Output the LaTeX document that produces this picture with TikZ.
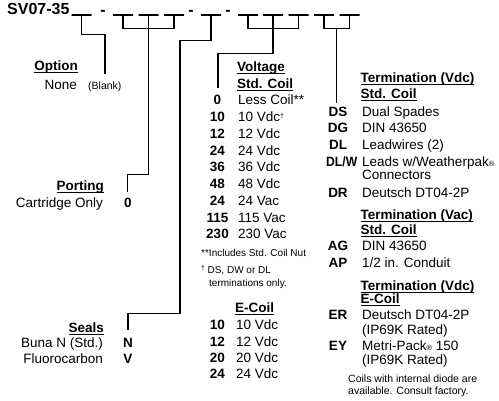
\documentclass[tikz,border=0pt]{standalone}
\usepackage{fontspec}
\setmainfont{Liberation Sans}
\usetikzlibrary{positioning,calc}
\newcommand\hdul[1]{\setbox0\hbox{#1}\rlap{\rule[-2.4pt]{\wd0}{1.2pt}}\box0}
\newcommand\dgr{\raisebox{3.5pt}{\fontsize{7}{7}\selectfont\textdagger}}
\newcommand\regm{\raisebox{0.5pt}{\fontsize{7.5}{8}\selectfont\textregistered}}
\tikzset{
  conn/.style={line width=1.3pt},
  blank/.style={draw,line width=1.3pt,minimum width=20pt,minimum height=0pt,
    inner sep=0pt},
  txt/.style={font=\fontsize{13.5}{15}\selectfont,inner sep=0pt,
    text height=9.7pt,text depth=0pt},
  code/.style={txt,font=\fontsize{13.5}{15}\selectfont\bfseries},
  hdr/.style={code,anchor=west},
  lbl/.style={txt,anchor=west},
  lft/.style={txt,anchor=east},
  note/.style={font=\fontsize{10.5}{12}\selectfont,inner sep=0pt,
    text height=7.5pt,text depth=0pt,anchor=west},
  fnote/.style={note,font=\fontsize{10}{12}\selectfont},
  ttl/.style={font=\fontsize{16}{18}\selectfont\bfseries,inner sep=0pt},
}
\begin{document}
\begin{tikzpicture}[x=1pt,y=-1pt]
  \useasboundingbox (0,0) rectangle (499,401);
  \node[ttl,anchor=base west] (model) at (7,15) {SV07-35};
  \foreach \n/\x in {1/81.5,2/123,3/148.5,4/174,5/211,6/248,7/273,8/298.5,
    9/324,10/349.5}
    \node[blank] (b\n) at (\x,15) {};
  \node[ttl,anchor=base] (dash1) at (103,15.5) {-};
  \node[ttl,anchor=base] (dash2) at (191,15.5) {-};
  \node[ttl,anchor=base] (dash3) at (228,15.5) {-};
  \coordinate (opt) at (105,74);
  \coordinate (port) at (127.5,192);
  \coordinate (seal) at (128,330);
  \coordinate (volt) at (218,88);
  \coordinate (term) at ($(b9.south)!.5!(b10.south)+(0,87)$);
  \draw[conn] (b1.south) -- ++(0,19) -| (opt);
  \draw[conn] (b2.south) -- ++(0,13) -| (b4.south);
  \draw[conn] (b3.south) -- ++(0,159) -| (port);
  \draw[conn] (b5.south) -- ++(0,25) -| ++(-31,273) -| (seal);
  \draw[conn] (b6.south) -- ++(0,13) -| (b8.south);
  \draw[conn] (b7.south) -- ++(0,38) -| (volt);
  \draw[conn] (b9.south) -- ++(0,13) -| (b10.south);
  \draw[conn] ($(b9.south)!.5!(b10.south)+(0,13)$) -- (term);
  % option, porting, seals
  \node[hdr,anchor=east] (optH) at (78,66) {\hdul{Option}};
  \node[lft] (optNone) at (77,85) {None};
  \node[note] (optBlank) at (88,86) {(Blank)};
  \node[hdr,anchor=east] (portH) at (104,186) {\hdul{Porting}};
  \node[lft] (portCart) at (103,203) {Cartridge Only};
  \node[code] (port0) at (128,203) {0};
  \node[hdr,anchor=east] (sealH) at (104,328) {\hdul{Seals}};
  \node[lft] (sealBuna) at (103,343) {Buna N (Std.)};
  \node[lft] (sealFluo) at (103,359) {Fluorocarbon};
  \node[code] (sealN) at (128,343) {N};
  \node[code] (sealV) at (128,359) {V};
  % voltage
  \node[hdr] (voltH) at (237,67) {\hdul{Voltage}};
  \node[hdr] (voltS) at (237,84) {\hdul{Std. Coil}};
  \foreach \c/\t [count=\i from 0] in {0/Less Coil**,10/10 Vdc\dgr,12/12 Vdc,
    24/24 Vdc,36/36 Vdc,48/48 Vdc,24/24 Vac,115/115 Vac,230/230 Vac}{
    \node[code] (vc\i) at (217.5,100+16.75*\i) {\c};
    \node[lbl] (vt\i) at (238,100+16.75*\i) {\t};
  }
  \node[fnote] (fn1) at (201,253) {**Includes Std. Coil Nut};
  \node[fnote] (fn2) at (201,270) {\dgr\hspace{2.5pt}DS, DW or DL};
  \node[fnote] (fn3) at (209,283) {terminations only.};
  \node[hdr] (ecoilH) at (235,308) {\hdul{E-Coil}};
  \foreach \c [count=\i from 0] in {10,12,20,24}{
    \node[code] (ec\i) at (217.5,325+16.33*\i) {\c};
    \node[lbl] (et\i) at (236,325+16.33*\i) {\c\ Vdc};
  }
  % termination
  \node[hdr] (tdcH) at (360.5,78) {\hdul{Termination (Vdc)}};
  \node[hdr] (tdcS) at (360.5,94) {\hdul{Std. Coil}};
  \foreach \c/\t/\y in {DS/Dual Spades/112,DG/DIN 43650/128,
    DL/Leadwires (2)/145,DR/Deutsch DT04-2P/193}{
    \node[code] (tc\c) at (338,\y) {\c};
    \node[lbl] (tt\c) at (362,\y) {\t};
  }
  \node[code,anchor=west] (tcDLW) at (326,162) {\scalebox{.9}[1]{DL/W}};
  \node[lbl] (ttDLW) at (362,162) {Leads w/Weatherpak\regm};
  \node[lbl] (ttDLWb) at (362,175) {Connectors};
  \node[hdr] (tacH) at (360.5,215) {\hdul{Termination (Vac)}};
  \node[hdr] (tacS) at (360.5,230) {\hdul{Std. Coil}};
  \node[code] (tcAG) at (338,246) {AG};
  \node[lbl] (ttAG) at (362,246) {DIN 43650};
  \node[code] (tcAP) at (338,263) {AP};
  \node[lbl] (ttAP) at (362,263) {1/2 in. Conduit};
  \node[hdr] (teH) at (360.5,286) {\hdul{Termination (Vdc)}};
  \node[hdr] (teS) at (360.5,299) {\hdul{E-Coil}};
  \node[code] (tcER) at (338,315) {ER};
  \node[lbl] (ttER) at (362,315) {Deutsch DT04-2P};
  \node[lbl] (ttERb) at (362,330) {(IP69K Rated)};
  \node[code] (tcEY) at (338,346) {EY};
  \node[lbl] (ttEY) at (362,346) {Metri-Pack\regm\ 150};
  \node[lbl] (ttEYb) at (362,360) {(IP69K Rated)};
  \node[note] (diode1) at (348,379) {Coils with internal diode are};
  \node[note] (diode2) at (348,391) {available. Consult factory.};
\end{tikzpicture}
\end{document}
